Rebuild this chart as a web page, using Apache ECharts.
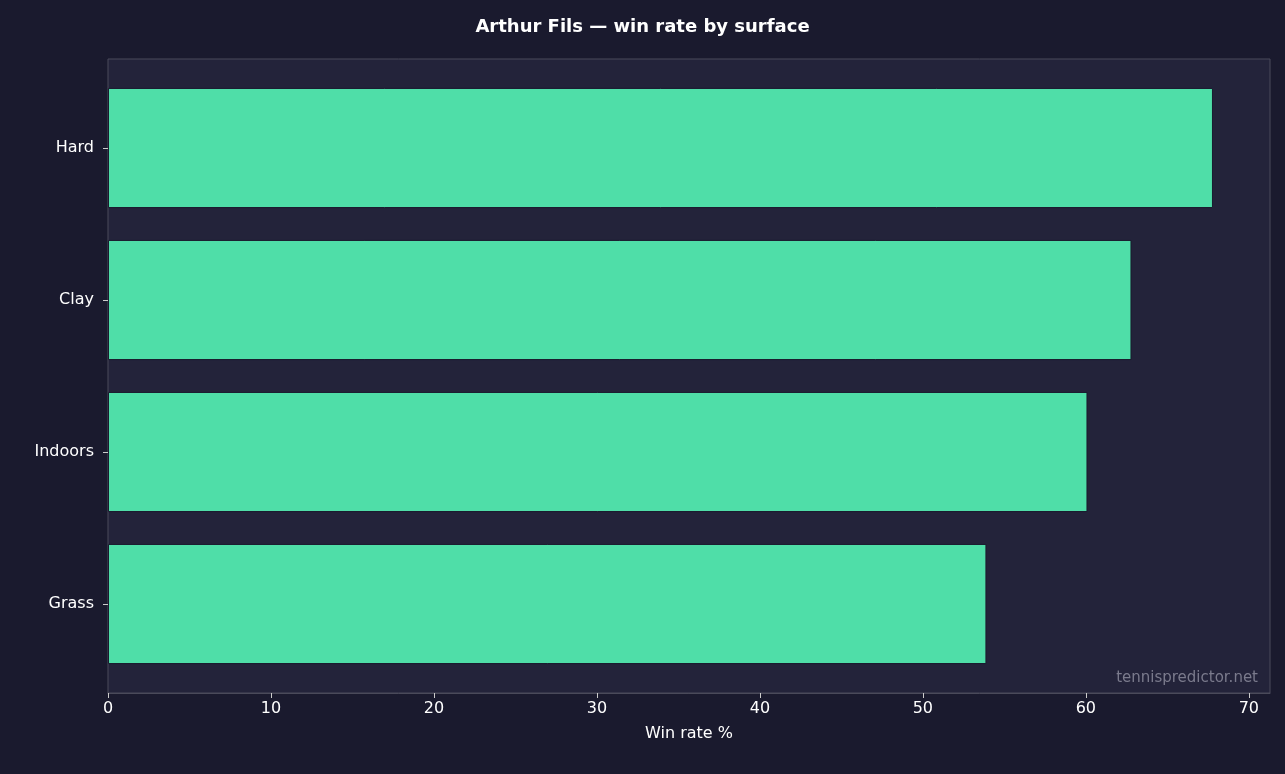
<!DOCTYPE html>
<html><head><meta charset="utf-8">
<script src="https://cdn.jsdelivr.net/npm/echarts@6/dist/echarts.min.js"></script>
<style>html,body{margin:0;padding:0;background:#1a1a2e;}#c{width:1285px;height:774px;}</style>
</head><body><div id="c"></div>
<script>
const categories = ["Grass","Indoors","Clay","Hard"];
const winRates = [53.9, 60.1, 62.8, 67.8];
const xTicks = [0,10,20,30,40,50,60,70];
const chart = echarts.init(document.getElementById('c'));
const F = "DejaVu Sans";
chart.setOption({
  backgroundColor:'#1a1a2e',
  title:{text:'Arthur Fils — win rate by surface',left:'center',top:13,textStyle:{color:'#ffffff',fontSize:18,fontWeight:'bold',fontFamily:F}},
  grid:{left:108,right:15,top:72,bottom:94,show:false},
  graphic:[
    {type:'rect',z:-1,shape:{x:108,y:59,width:1162,height:634},style:{fill:'#23233a',stroke:'#4a4a5a',lineWidth:1}},
    {type:'text',right:27,bottom:88,z:10,style:{text:'tennispredictor.net',fill:'#7a7a8c',font:'15px "DejaVu Sans"'}}
  ],
  xAxis:{type:'value',min:0,max:71.3,interval:10,offset:13,
    name:'Win rate %',nameLocation:'middle',nameGap:33,nameTextStyle:{color:'#ffffff',fontSize:16,fontFamily:F},
    axisLine:{show:true,lineStyle:{color:'#4a4a5a'}},axisTick:{show:true,length:5,lineStyle:{color:'#cccccc'}},
    axisLabel:{color:'#ffffff',fontSize:16,fontFamily:F,showMaxLabel:false,formatter:v=>xTicks.includes(v)?String(v):''},
    splitLine:{show:false}},
  yAxis:{type:'category',data:categories,
    axisLine:{show:false},axisTick:{show:true,length:5,alignWithLabel:true,lineStyle:{color:'#cccccc'}},
    axisLabel:{color:'#ffffff',fontSize:16,fontFamily:F,margin:14}},
  series:[{type:'bar',data:winRates,barCategoryGap:'21%',
    itemStyle:{color:'#4fdea8',borderColor:'#1a1a2e',borderWidth:1}}]
});
</script></body></html>
